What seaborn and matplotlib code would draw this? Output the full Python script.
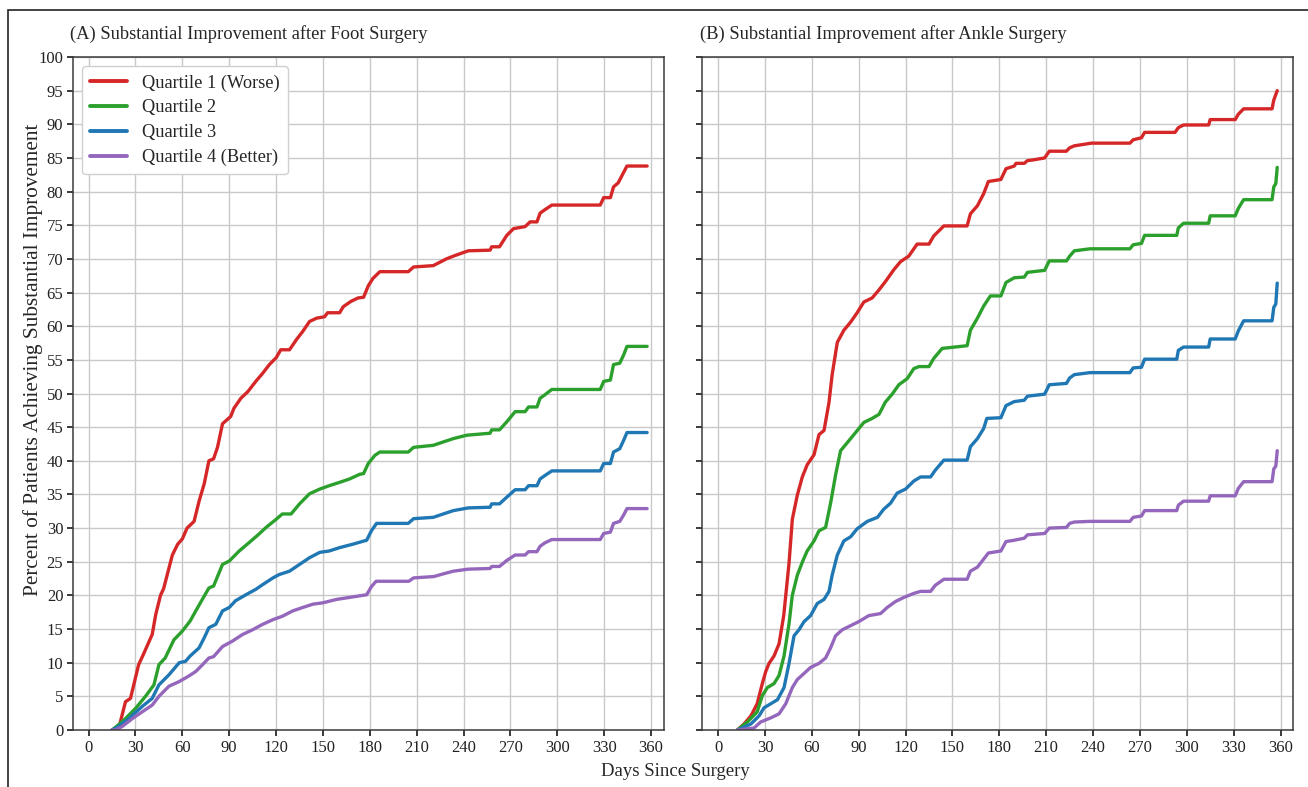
import matplotlib
matplotlib.use("Agg")
import matplotlib.pyplot as plt
import pandas as pd
import seaborn as sns
from matplotlib.patches import Rectangle

# ---- data: cumulative % achieving substantial improvement, by baseline quartile ----
foot_q1_days = [15, 19, 23.6, 26.8, 32, 35, 40.7, 43, 46, 48, 53.6, 57, 60, 63, 67.5, 70.7, 74, 77, 80, 82.5,
                85.7, 91, 93, 97.5, 102, 107, 111.4, 115.7, 120, 123, 128.6, 133, 137, 141.4, 146, 151, 153,
                160.7, 163, 168, 172.5, 176, 179, 182, 186.4, 204.6, 208, 220.6, 229, 234.5, 243, 257, 258,
                263, 267.7, 272, 279.4, 282.6, 287, 289, 292, 296.5, 327.5, 329.7, 334, 336, 339, 341, 344.6, 357.5]
foot_q1_pct = [0, 0, 4.2, 4.7, 9.7, 11.2, 14.2, 17.2, 20, 21, 26, 27.6, 28.4, 30, 31, 34, 36.6, 40, 40.3, 42,
               45.5, 46.6, 47.8, 49.3, 50.3, 51.8, 53, 54.3, 55.3, 56.5, 56.5, 58, 59.2, 60.7, 61.2, 61.4, 62,
               62, 62.9, 63.7, 64.2, 64.3, 66, 67.1, 68.1, 68.1, 68.8, 69, 70, 70.5, 71.2, 71.3, 71.8,
               71.8, 73.5, 74.5, 74.8, 75.5, 75.5, 76.8, 77.3, 78, 78, 79.1, 79.1, 80.7, 81.3, 82.2, 83.8, 83.8]

foot_q2_days = [15, 19, 23.6, 30, 36.4, 41.8, 45, 49, 54.6, 60, 65, 68.6, 74, 77, 80, 85.7, 90, 96.4, 103, 108,
                113.6, 120, 124, 129.6, 135, 141.4, 148, 154, 160.7, 167, 173.6, 176, 179, 183.2, 186.4, 204.6,
                208, 220.6, 227, 233.5, 242, 257, 258, 263, 267.7, 273, 279.4, 281.6, 287, 289, 292, 296.5,
                327.5, 329.7, 334, 336, 340, 342.6, 344.6, 357.5]
foot_q2_pct = [0, 0.75, 1.7, 3.2, 5, 6.7, 9.7, 10.7, 13.4, 14.7, 16.2, 17.7, 19.9, 21.1, 21.4, 24.6, 25.1, 26.6,
               27.9, 28.9, 30.1, 31.3, 32.1, 32.1, 33.6, 35.1, 35.8, 36.3, 36.8, 37.3, 38, 38.1, 39.6, 40.8,
               41.3, 41.3, 42, 42.3, 42.8, 43.3, 43.8, 44.1, 44.6, 44.6, 45.8, 47.3, 47.3, 48, 48, 49.3, 49.8,
               50.6, 50.6, 51.8, 52, 54.3, 54.5, 55.8, 57, 57]

foot_q3_days = [15, 19, 25.7, 34.3, 40.7, 45, 51.4, 58, 62, 65, 70.7, 74, 77, 81.4, 85.7, 90, 94, 100.7, 107,
                111.4, 118, 122, 128.6, 135, 141.4, 148, 154, 160.7, 169, 178, 181, 184.3, 204.6, 208, 220.6,
                227, 233.5, 243, 257, 258, 263, 267.7, 273, 279.4, 281.6, 287, 289, 292, 296.5, 327.5, 329.7,
                334, 336, 340, 342.6, 344.6, 357.5]
foot_q3_pct = [0, 0.5, 1.7, 3.5, 4.7, 6.7, 8.2, 10, 10.2, 11, 12.2, 13.7, 15.2, 15.7, 17.7, 18.2, 19.2, 20.1,
               20.9, 21.6, 22.6, 23.1, 23.6, 24.6, 25.6, 26.4, 26.6, 27.1, 27.6, 28.2, 29.6, 30.7, 30.7, 31.4,
               31.6, 32.1, 32.6, 33, 33.1, 33.6, 33.6, 34.6, 35.7, 35.7, 36.3, 36.3, 37.3, 37.8, 38.5, 38.5,
               39.6, 39.6, 41.3, 41.8, 43.1, 44.2, 44.2]

foot_q4_days = [15, 17, 21.4, 28, 34.3, 40.7, 45, 51.4, 58, 64, 68.6, 72.9, 77, 80, 85.7, 92, 98.6, 105, 111.4,
                118, 124, 130.7, 137, 143.6, 150, 158.6, 167, 178, 181, 184, 205, 208, 221, 227, 233.5, 243,
                257, 258, 263, 267.7, 273, 279.4, 281.6, 287, 289, 292, 296.5, 327.5, 329.7, 334, 336, 340,
                342.6, 344.6, 357.5]
foot_q4_pct = [0, 0, 0.5, 1.7, 2.7, 3.7, 5, 6.5, 7.2, 8, 8.7, 9.7, 10.7, 10.9, 12.4, 13.2, 14.2, 14.9, 15.7,
               16.4, 16.9, 17.7, 18.2, 18.7, 18.9, 19.4, 19.7, 20.1, 21.3, 22.1, 22.1, 22.6, 22.8, 23.2, 23.6,
               23.9, 24.0, 24.3, 24.3, 25.2, 26.0, 26.0, 26.5, 26.5, 27.3, 27.8, 28.3, 28.3, 29.2, 29.4, 30.7,
               31.0, 32.0, 32.9, 32.9]

ankle_q1_days = [12.4, 16.6, 21, 25, 28.3, 30.5, 32.6, 35.8, 39, 42, 45.4, 47.5, 50.7, 53.9, 57, 61.4, 64.6,
                 67.8, 71, 73, 76.3, 80.5, 84.8, 89, 93.3, 98.6, 103, 107, 112.5, 116.8, 122, 127.4, 135, 138,
                 144.5, 159.4, 161.5, 166, 170, 173, 181, 184.3, 189.6, 190.7, 196, 198, 201.4, 209, 212,
                 222.9, 225, 228, 239, 263.6, 265.7, 271, 273, 292.5, 294.6, 297.9, 314, 315, 331, 333, 336.4,
                 354.6, 355.7, 357.9]
ankle_q1_pct = [0, 0.9, 2.1, 3.9, 6.9, 8.7, 9.9, 11, 12.8, 17, 24.8, 31.3, 34.9, 37.6, 39.4, 40.9, 43.9, 44.5,
                48.7, 52.8, 57.6, 59.4, 60.6, 62, 63.6, 64.2, 65.4, 66.6, 68.4, 69.6, 70.4, 72.2, 72.2, 73.4,
                74.9, 74.9, 76.7, 77.9, 79.7, 81.5, 81.8, 83.4, 83.8, 84.2, 84.2, 84.6, 84.7, 85, 86, 86, 86.5,
                86.8, 87.2, 87.2, 87.7, 88, 88.8, 88.8, 89.5, 89.9, 89.9, 90.7, 90.7, 91.5, 92.3, 92.3, 93.6, 95]

ankle_q2_days = [12.4, 18.8, 25, 28.3, 31.5, 35.8, 39, 42.2, 45.4, 47.5, 50.7, 54, 57, 61.4, 64.6, 68.8, 72,
                 75.2, 78.4, 82.7, 88, 93.3, 98.6, 103, 107, 111.4, 115.7, 121, 125.3, 128.5, 135, 138, 143.4,
                 159.4, 161.5, 166, 170, 174.3, 181, 184.3, 189.6, 196, 198, 209, 212, 223, 225, 228, 238,
                 263.6, 265.7, 271, 273, 293.6, 294.6, 297.9, 314, 315, 331, 333, 336.4, 354.6, 355.7, 357, 357.9]
ankle_q2_pct = [0, 1.2, 2.7, 5.1, 6.3, 6.9, 8.1, 11, 15.8, 20, 23, 25, 26.6, 28.1, 29.6, 30.1, 33.7, 37.9,
                41.5, 42.7, 44.2, 45.7, 46.3, 46.9, 48.7, 49.9, 51.3, 52.2, 53.7, 54, 54, 55.2, 56.7, 57.1,
                59.4, 61.2, 63, 64.5, 64.5, 66.5, 67.2, 67.3, 68, 68.3, 69.7, 69.7, 70.4, 71.2, 71.5, 71.5,
                72.1, 72.3, 73.5, 73.5, 74.6, 75.3, 75.3, 76.4, 76.4, 77.5, 78.8, 78.8, 80.7, 81.2, 83.6]

ankle_q3_days = [12.4, 21, 26.2, 29.4, 33.7, 38, 42.2, 45.4, 48.6, 51.8, 55, 59.2, 63.5, 67.8, 71, 73, 76.3,
                 80.5, 84.8, 89, 95.5, 102, 106, 110.4, 114.6, 120, 125.3, 129.6, 136, 139, 144.5, 159.4, 161.5,
                 166, 170, 172, 181, 184.3, 189.6, 196, 198, 209, 212, 223, 225, 228, 238, 263.6, 265.7, 271,
                 273, 293.6, 294.6, 297.9, 314, 315, 331, 333, 336.4, 354.6, 355.7, 357, 357.9]
ankle_q3_pct = [0, 0.9, 2.1, 3.3, 3.9, 4.5, 6.3, 9.9, 14, 14.9, 16.1, 17, 18.8, 19.4, 20.6, 23, 26, 28.1,
                28.7, 29.9, 31, 31.6, 32.8, 33.7, 35.2, 35.8, 37, 37.6, 37.6, 38.6, 40.1, 40.1, 42.1, 43.3,
                44.8, 46.3, 46.4, 48.2, 48.8, 49, 49.6, 49.9, 51.3, 51.5, 52.3, 52.8, 53.1, 53.1, 53.8, 53.9,
                55.1, 55.1, 56.4, 56.9, 56.9, 58.1, 58.1, 59.3, 60.8, 60.8, 62.8, 63.3, 66.4]

ankle_q4_days = [12.4, 23, 27.3, 33.7, 39, 43.3, 47.5, 50.7, 55, 59.2, 64.6, 68.8, 72, 75.2, 79.5, 84.8, 90,
                 96.5, 104, 108.2, 113.6, 118.9, 125.3, 129.6, 136, 139, 144.5, 159.4, 161.5, 166, 170, 173,
                 181, 184.3, 189.6, 196, 198, 209, 212, 223, 225, 228, 238, 263.6, 265.7, 271, 273, 293.6,
                 294.6, 297.9, 314, 315, 331, 333, 336.4, 354.6, 355.7, 357, 357.9]
ankle_q4_pct = [0, 0.3, 1.2, 1.8, 2.4, 3.9, 6.3, 7.5, 8.4, 9.3, 9.9, 10.7, 12.2, 14, 14.9, 15.5, 16.1, 17,
                17.3, 18.2, 19.1, 19.7, 20.3, 20.6, 20.6, 21.5, 22.4, 22.4, 23.6, 24.2, 25.4, 26.3, 26.6, 28,
                28.2, 28.5, 29, 29.2, 30, 30.1, 30.7, 30.9, 31, 31, 31.6, 31.8, 32.6, 32.6, 33.4, 34, 34, 34.8,
                34.8, 35.9, 36.9, 36.9, 38.8, 39.2, 41.5]

quartile_labels = ["Quartile 1 (Worse)", "Quartile 2", "Quartile 3", "Quartile 4 (Better)"]
panel_titles = ["(A) Substantial Improvement after Foot Surgery",
                "(B) Substantial Improvement after Ankle Surgery"]
x_ticks = list(range(0, 361, 30))
y_ticks = list(range(0, 101, 5))

foot_series = [(foot_q1_days, foot_q1_pct), (foot_q2_days, foot_q2_pct),
               (foot_q3_days, foot_q3_pct), (foot_q4_days, foot_q4_pct)]
ankle_series = [(ankle_q1_days, ankle_q1_pct), (ankle_q2_days, ankle_q2_pct),
                (ankle_q3_days, ankle_q3_pct), (ankle_q4_days, ankle_q4_pct)]


def to_frame(series):
    rows = []
    for label, (days, pct) in zip(quartile_labels, series):
        for d, p in zip(days, pct):
            rows.append({"day": d, "pct": p, "group": label})
    return pd.DataFrame(rows)


# ---- styling ----
sns.set_theme(style="whitegrid")
plt.rcParams.update({
    "font.family": ["Liberation Serif", "DejaVu Serif"],
    "axes.edgecolor": "#3a3a3a",
    "axes.linewidth": 1.1,
    "grid.color": "#c9c9c9",
    "grid.linewidth": 1.0,
    "xtick.bottom": True,
    "ytick.left": True,
    "xtick.major.size": 4,
    "ytick.major.size": 4,
    "xtick.color": "#222222",
    "ytick.color": "#222222",
    "xtick.labelsize": 12,
    "ytick.labelsize": 12,
})

palette = dict(zip(quartile_labels, ["#d62728", "#2ca02c", "#1f77b4", "#9467bd"]))

fig, axes = plt.subplots(1, 2, figsize=(13.08, 7.87), dpi=100, sharey=True)
fig.subplots_adjust(left=73 / 1308, right=1293 / 1308, top=1 - 57 / 787, bottom=1 - 730 / 787,
                    wspace=0.066)

for ax, series, title in zip(axes, [foot_series, ankle_series], panel_titles):
    df = to_frame(series)
    sns.lineplot(data=df, x="day", y="pct", hue="group", palette=palette, estimator=None,
                 linewidth=2.4, ax=ax, legend=False)
    ax.set_xlim(-10, 368)
    ax.set_ylim(0, 100)
    ax.set_xticks(x_ticks)
    ax.set_yticks(y_ticks)
    ax.set_xlabel("")
    ax.set_ylabel("")
    ax.set_title(title, loc="left", fontsize=13.3, pad=13, x=-0.005)
    ax.tick_params(axis="both", pad=3)

axes[1].tick_params(axis="y", labelleft=False)

handles = [plt.Line2D([], [], color=palette[q], linewidth=2.8) for q in quartile_labels]
axes[0].legend(handles, quartile_labels, loc="upper left", fontsize=13.2, frameon=True,
               handlelength=2.0, handletextpad=0.8, borderpad=0.45, labelspacing=0.42,
               edgecolor="#d0d0d0", fancybox=True, framealpha=1.0, bbox_to_anchor=(0.0, 1.0))

axes[0].set_ylabel("Percent of Patients Achieving Substantial Improvement", fontsize=15.3)
axes[0].yaxis.set_label_coords(-0.05, 0.55)
fig.text(0.516, 1 - 772 / 787, "Days Since Surgery", ha="center", va="center", fontsize=13.5)

# thin outer frame around the whole figure
fig.patches.append(Rectangle((8 / 1308, -0.01), 1.0, 1 - 10 / 787 + 0.01, transform=fig.transFigure,
                             fill=False, edgecolor="#222222", linewidth=1.2))

fig.savefig("out.png", dpi=100)
